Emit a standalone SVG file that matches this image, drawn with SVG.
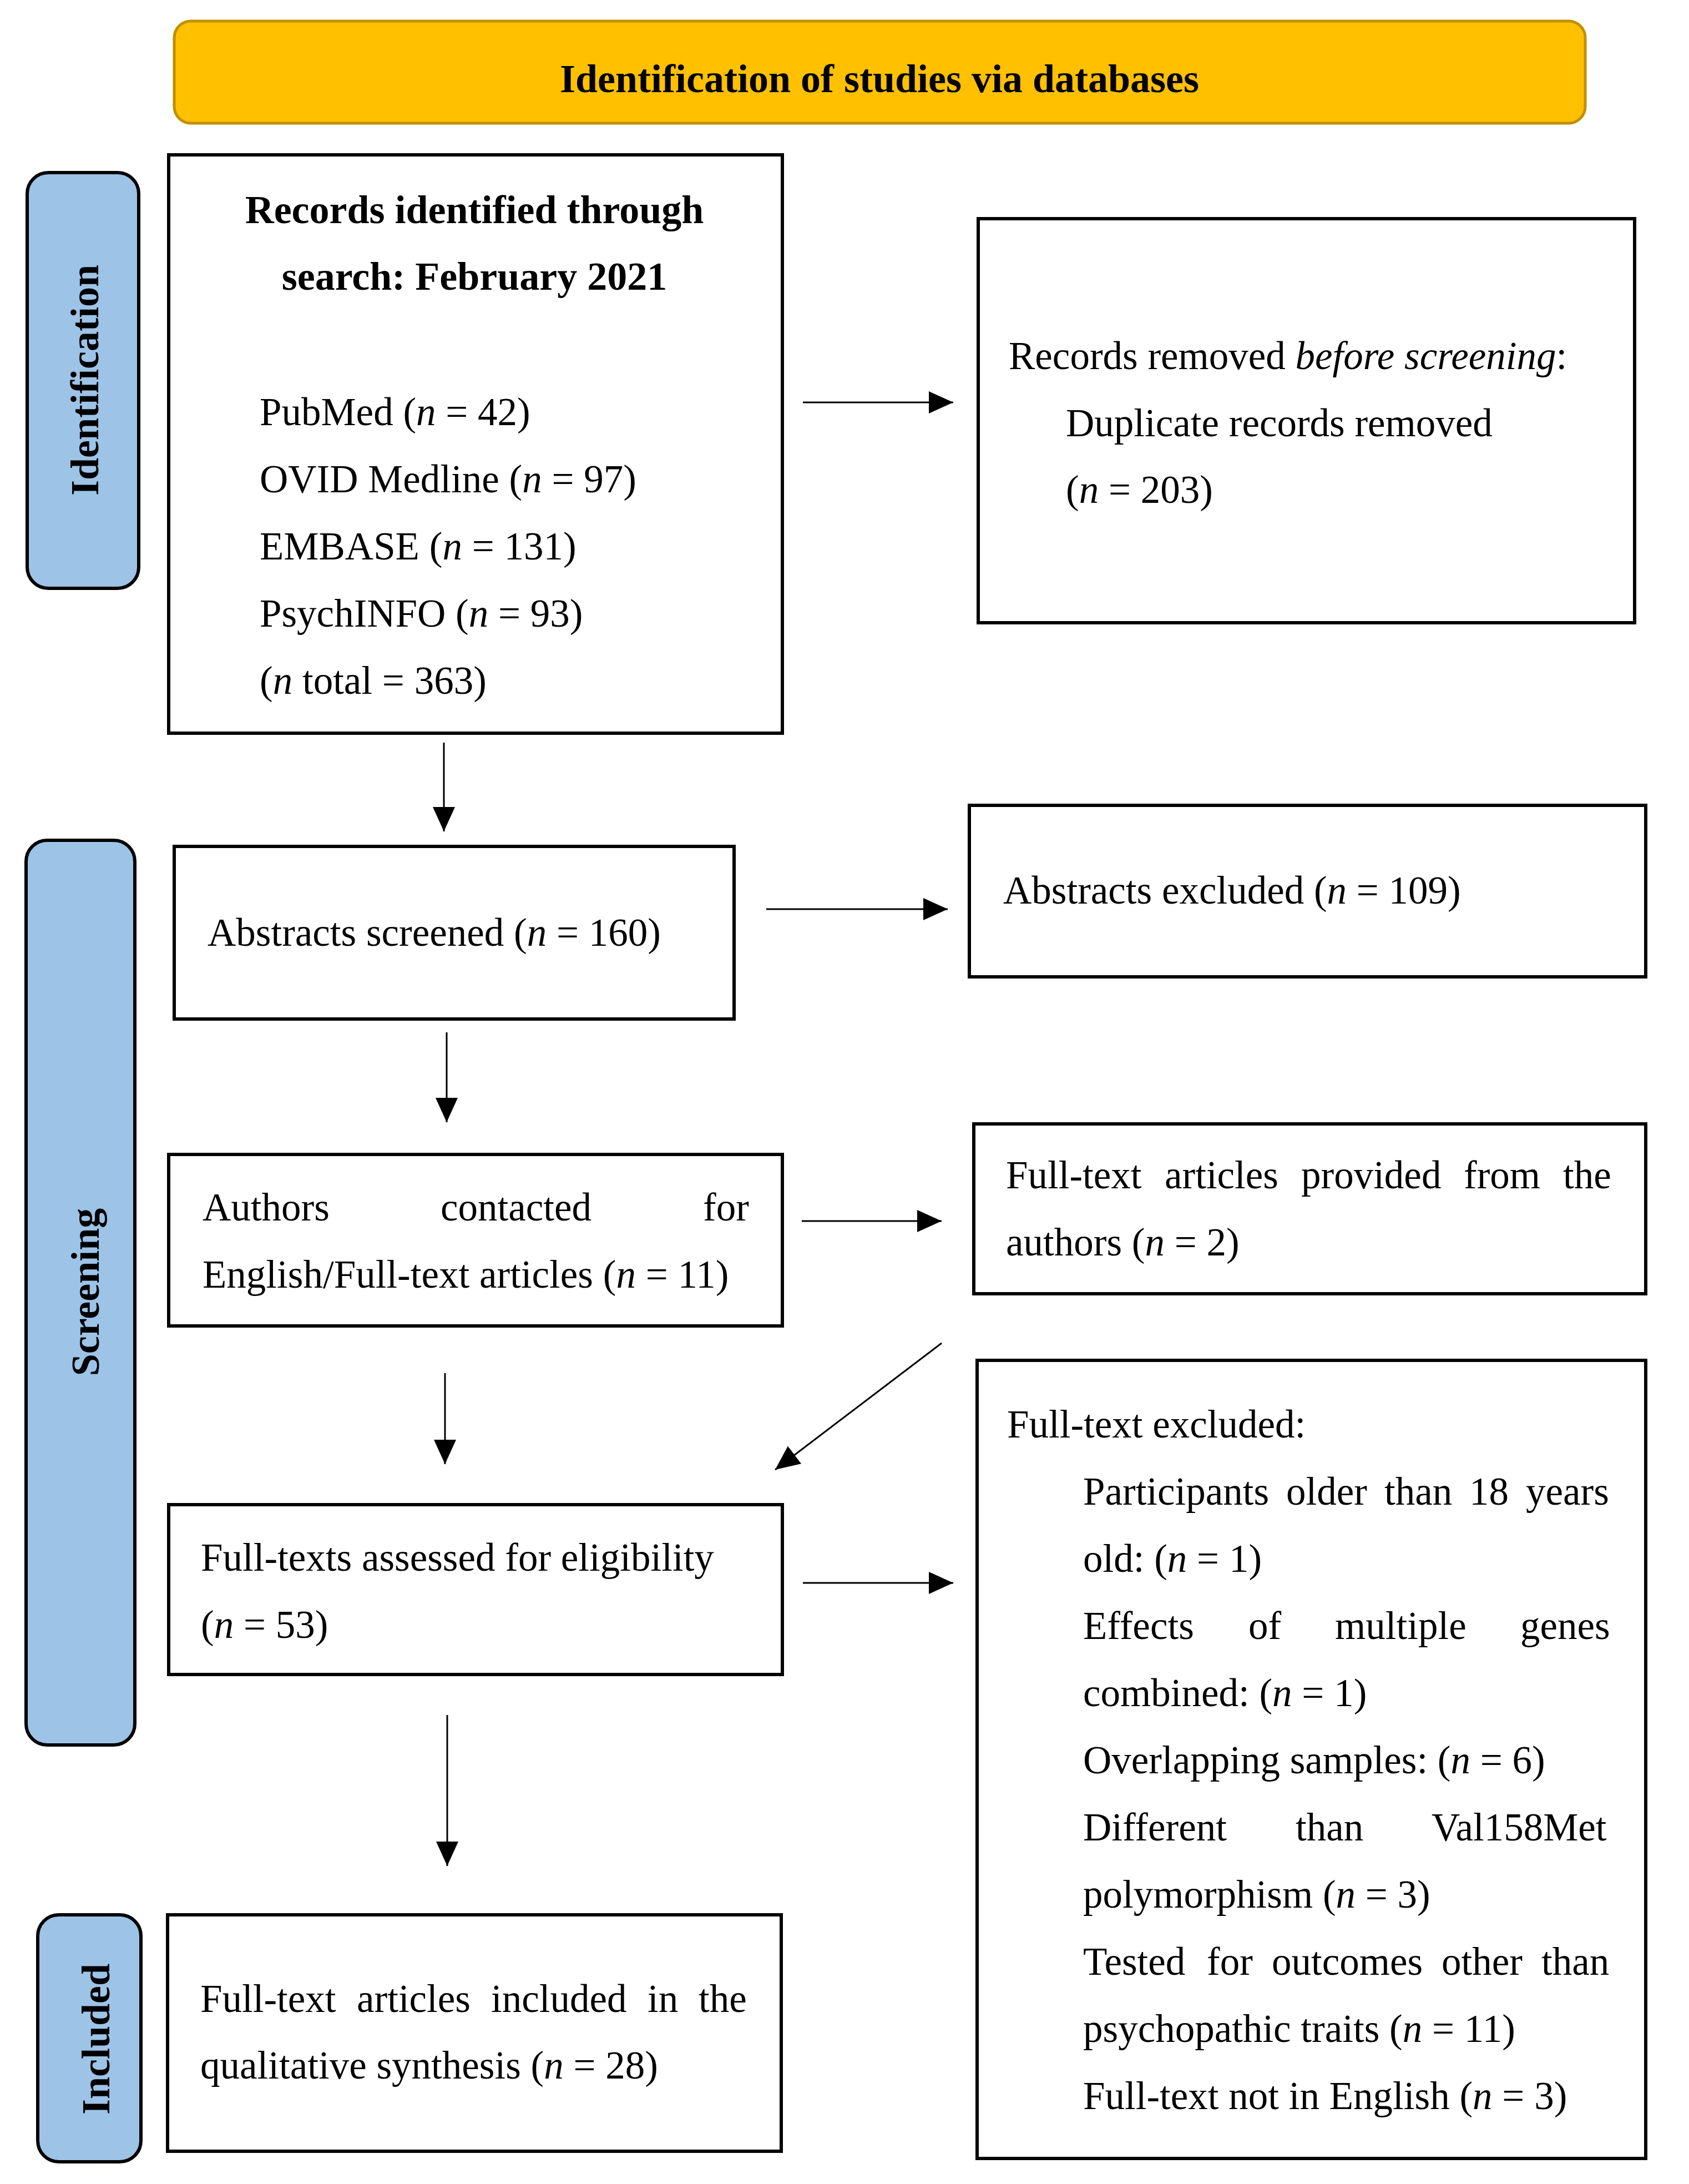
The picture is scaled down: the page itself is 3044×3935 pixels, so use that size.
<svg xmlns="http://www.w3.org/2000/svg" width="3044" height="3935" viewBox="0 0 3044 3935">
<style>
.box{fill:#fff;stroke:#000;stroke-width:6}
.lbl{fill:#9DC3E6;stroke:#000;stroke-width:6}
.hdr{fill:#FFC000;stroke:#BF9000;stroke-width:5}
text{font-family:'Liberation Serif','Times New Roman',serif;font-size:71px;fill:#000}
.b{font-weight:bold;font-size:72px}
.i{font-style:italic}
.conn line{stroke:#000;stroke-width:3;fill:none;marker-end:url(#ah)}
</style>
<defs>
<marker id="ah" markerUnits="userSpaceOnUse" markerWidth="46" markerHeight="42" refX="44" refY="20" orient="auto" viewBox="0 0 46 42">
<path d="M0,0 L44,20 L0,40 z" fill="#000"/>
</marker>
</defs>
<rect width="3044" height="3935" fill="#fff"/>

<g id="header">
<rect class="hdr" x="314" y="38" width="2543" height="184" rx="30"/>
<text class="b" x="1585" y="166" text-anchor="middle">Identification of studies via databases</text>
</g>

<g id="label-identification">
<rect class="lbl" x="49" y="311" width="201" height="749" rx="38"/>
<text class="b" transform="translate(177,685) rotate(-90)" x="0" y="0" text-anchor="middle">Identification</text>
</g>
<g id="label-screening">
<rect class="lbl" x="47" y="1514" width="196" height="1630" rx="38"/>
<text class="b" transform="translate(178,2328) rotate(-90)" x="0" y="0" text-anchor="middle">Screening</text>
</g>
<g id="label-included">
<rect class="lbl" x="68" y="3450" width="186" height="445" rx="38"/>
<text class="b" transform="translate(197,3674) rotate(-90)" x="0" y="0" text-anchor="middle">Included</text>
</g>

<g id="records-identified">
<rect class="box" x="304" y="279" width="1106" height="1042"/>
<text class="b" x="855" y="402" text-anchor="middle">Records identified through</text>
<text class="b" x="855" y="522" text-anchor="middle">search: February 2021</text>
<text x="468" y="766">PubMed (<tspan class="i">n</tspan> = 42)</text>
<text x="468" y="887">OVID Medline (<tspan class="i">n</tspan> = 97)</text>
<text x="468" y="1008">EMBASE (<tspan class="i">n</tspan> = 131)</text>
<text x="468" y="1129">PsychINFO (<tspan class="i">n</tspan> = 93)</text>
<text x="468" y="1250">(<tspan class="i">n</tspan> total = 363)</text>
</g>

<g id="records-removed">
<rect class="box" x="1763" y="394" width="1183" height="728"/>
<text x="1818" y="665">Records removed <tspan class="i">before screening</tspan>:</text>
<text x="1921" y="786">Duplicate records removed</text>
<text x="1921" y="906">(<tspan class="i">n</tspan> = 203)</text>
</g>

<g id="abstracts-screened">
<rect class="box" x="314" y="1525" width="1009" height="311"/>
<text x="374" y="1704">Abstracts screened (<tspan class="i">n</tspan> = 160)</text>
</g>

<g id="abstracts-excluded">
<rect class="box" x="1747" y="1451" width="1219" height="309"/>
<text x="1808" y="1628">Abstracts excluded (<tspan class="i">n</tspan> = 109)</text>
</g>

<g id="authors-contacted">
<rect class="box" x="304" y="2080" width="1106" height="309"/>
<text y="2199"><tspan x="365">Authors</tspan><tspan x="794">contacted</tspan><tspan x="1267">for</tspan></text>
<text x="365" y="2320">English/Full-text articles (<tspan class="i">n</tspan> = 11)</text>
</g>

<g id="fulltext-provided">
<rect class="box" x="1755" y="2025" width="1211" height="306"/>
<text y="2141"><tspan x="1813">Full-text</tspan><tspan x="2099">articles</tspan><tspan x="2345">provided</tspan><tspan x="2638">from</tspan><tspan x="2817">the</tspan></text>
<text x="1813" y="2262">authors (<tspan class="i">n</tspan> = 2)</text>
</g>

<g id="fulltexts-assessed">
<rect class="box" x="304" y="2711" width="1106" height="306"/>
<text x="362" y="2830">Full-texts assessed for eligibility</text>
<text x="362" y="2951">(<tspan class="i">n</tspan> = 53)</text>
</g>

<g id="fulltext-excluded">
<rect class="box" x="1761" y="2451" width="1205" height="1438"/>
<text x="1815" y="2590">Full-text excluded:</text>
<text y="2711"><tspan x="1952">Participants</tspan><tspan x="2318">older</tspan><tspan x="2495">than</tspan><tspan x="2648">18</tspan><tspan x="2750">years</tspan></text>
<text x="1952" y="2832">old: (<tspan class="i">n</tspan> = 1)</text>
<text y="2953"><tspan x="1952">Effects</tspan><tspan x="2250">of</tspan><tspan x="2406">multiple</tspan><tspan x="2740">genes</tspan></text>
<text x="1952" y="3074">combined: (<tspan class="i">n</tspan> = 1)</text>
<text x="1952" y="3195">Overlapping samples: (<tspan class="i">n</tspan> = 6)</text>
<text y="3316"><tspan x="1952">Different</tspan><tspan x="2335">than</tspan><tspan x="2580">Val158Met</tspan></text>
<text x="1952" y="3437">polymorphism (<tspan class="i">n</tspan> = 3)</text>
<text y="3558"><tspan x="1952">Tested</tspan><tspan x="2175">for</tspan><tspan x="2292">outcomes</tspan><tspan x="2598">other</tspan><tspan x="2778">than</tspan></text>
<text x="1952" y="3679">psychopathic traits (<tspan class="i">n</tspan> = 11)</text>
<text x="1952" y="3800">Full-text not in English (<tspan class="i">n</tspan> = 3)</text>
</g>

<g id="included">
<rect class="box" x="302" y="3450" width="1106" height="426"/>
<text y="3625"><tspan x="361">Full-text</tspan><tspan x="643">articles</tspan><tspan x="885">included</tspan><tspan x="1167">in</tspan><tspan x="1259">the</tspan></text>
<text x="361" y="3745">qualitative synthesis (<tspan class="i">n</tspan> = 28)</text>
</g>

<g id="connectors" class="conn">
<line x1="1447" y1="725" x2="1718" y2="725"/>
<line x1="800" y1="1338" x2="800" y2="1498"/>
<line x1="1381" y1="1638" x2="1708" y2="1638"/>
<line x1="805" y1="1860" x2="805" y2="2022"/>
<line x1="1445" y1="2200" x2="1697" y2="2200"/>
<line x1="1697" y1="2420" x2="1397" y2="2648"/>
<line x1="802" y1="2474" x2="802" y2="2638"/>
<line x1="1447" y1="2852" x2="1718" y2="2852"/>
<line x1="806" y1="3090" x2="806" y2="3362"/>
</g>
</svg>
